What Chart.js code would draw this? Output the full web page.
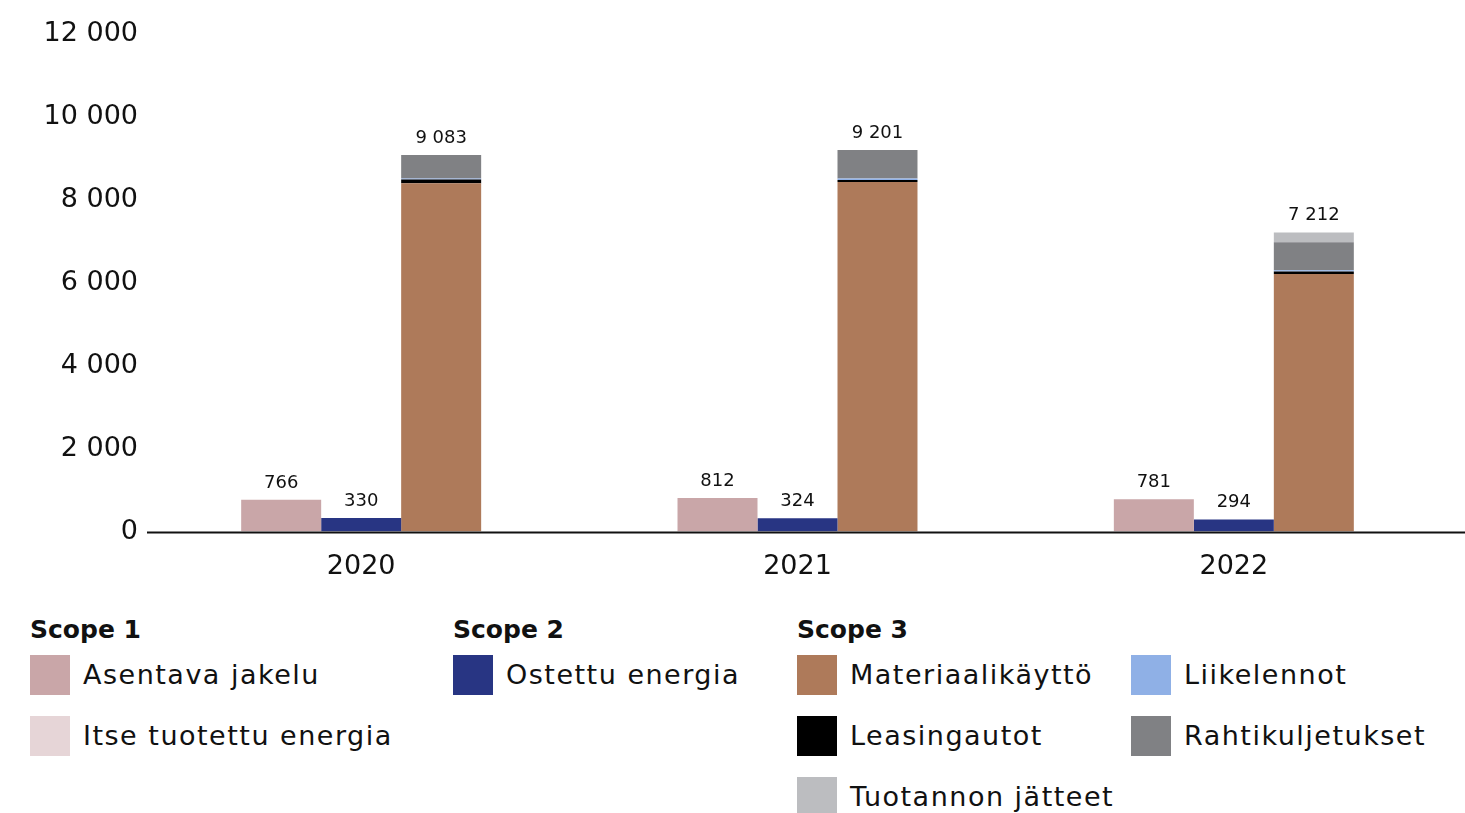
<!DOCTYPE html>
<html>
<head>
<meta charset="utf-8">
<script src="https://cdn.jsdelivr.net/npm/chart.js@4.4.1/dist/chart.umd.min.js"></script>
<style>
  body { margin: 0; background: #fff; font-family: "DejaVu Sans", sans-serif; color: #111; }
  #wrap { position: absolute; left: 0; top: 0; width: 1465px; height: 602px; }
  .head { position: absolute; font-weight: 700; font-size: 25px; line-height: 40px; }
  .item { position: absolute; height: 40px; line-height: 40px; white-space: nowrap; font-size: 27px; letter-spacing: 1.5px; }
  .item span.sw { position: absolute; left: 0; top: 0; width: 40px; height: 40px; }
  .item span.tx { position: absolute; left: 53px; top: 0; }
</style>
</head>
<body>
<div id="wrap"><canvas id="dados"></canvas></div>
<div id="legend"></div>
<script>
const vuodet = ['2020', '2021', '2022'];

// Scope 1
const asentava_jakelu = [766, 812, 781];
const itse_tuotettu = [0, 0, 0];
// Scope 2
const ostettu_energia = [330, 324, 294];
// Scope 3
const materiaalikaytto = [8400, 8430, 6215];
const liikelennot = [25, 35, 30];
const leasingautot = [90, 50, 60];
const rahtikuljetukset = [568, 686, 672];
const tuotannon_jatteet = [0, 0, 235];

const y_ticks = [0, 2000, 4000, 6000, 8000, 10000, 12000];

const varit = {
    asentava: '#c9a6a8', itse: '#e6d5d7', ostettu: '#283583',
    materiaali: '#ae7a5a', liike: '#8fb0e6', leasing: '#000000',
    rahti: '#808184', jatteet: '#bcbdc0'
};

const fontti = '"DejaVu Sans", sans-serif';

const sarjat = [
    { label: 'Asentava jakelu', data: asentava_jakelu, stack: 's1', backgroundColor: varit.asentava },
    { label: 'Itse tuotettu energia', data: itse_tuotettu, stack: 's1', backgroundColor: varit.itse },
    { label: 'Ostettu energia', data: ostettu_energia, stack: 's2', backgroundColor: varit.ostettu },
    { label: 'Materiaalikäyttö', data: materiaalikaytto, stack: 's3', backgroundColor: varit.materiaali },
    { label: 'Leasingautot', data: leasingautot, stack: 's3', backgroundColor: varit.leasing },
    { label: 'Liikelennot', data: liikelennot, stack: 's3', backgroundColor: varit.liike },
    { label: 'Rahtikuljetukset', data: rahtikuljetukset, stack: 's3', backgroundColor: varit.rahti },
    { label: 'Tuotannon jätteet', data: tuotannon_jatteet, stack: 's3', backgroundColor: varit.jatteet }
];

function muotoile(n) {
    return String(n).replace(/\B(?=(\d{3})+(?!\d))/g, ' ');
}

// summat pinojen päälle
const summaPlugin = {
    id: 'summat',
    afterDatasetsDraw(chart) {
        const ctx = chart.ctx;
        const pinot = {};
        chart.data.datasets.forEach((ds, di) => {
            const meta = chart.getDatasetMeta(di);
            ds.data.forEach((v, i) => {
                const key = ds.stack + '_' + i;
                const el = meta.data[i];
                if (!pinot[key]) pinot[key] = { sum: 0, x: el.x, top: el.base };
                pinot[key].sum += v;
                if (v > 0) pinot[key].top = Math.min(pinot[key].top, el.y);
            });
        });
        ctx.save();
        ctx.font = '18px ' + fontti;
        ctx.fillStyle = '#111';
        ctx.textAlign = 'center';
        ctx.textBaseline = 'bottom';
        Object.values(pinot).forEach(p => {
            ctx.fillText(muotoile(p.sum), p.x, p.top - 8);
        });
        // akselin viiva
        ctx.strokeStyle = '#111';
        ctx.lineWidth = 2;
        ctx.beginPath();
        ctx.moveTo(chart.chartArea.left + 4, chart.chartArea.bottom + 1);
        ctx.lineTo(chart.width, chart.chartArea.bottom + 1);
        ctx.stroke();
        ctx.restore();
    }
};

const ctx = document.getElementById('dados');
const grafiikka = new Chart(ctx, {
    type: 'bar',
    data: { labels: vuodet, datasets: sarjat },
    plugins: [summaPlugin],
    options: {
        responsive: true,
        maintainAspectRatio: false,
        animation: false,
        layout: { padding: { top: 34, right: 13, left: 0, bottom: 0 } },
        datasets: { bar: { categoryPercentage: 0.55, barPercentage: 1.0, borderWidth: 0 } },
        plugins: { legend: { display: false }, tooltip: { enabled: false } },
        scales: {
            x: {
                stacked: true,
                grid: { display: false, drawTicks: false },
                border: { display: false },
                ticks: { color: '#111', font: { size: 27, family: fontti }, padding: 19 }
            },
            y: {
                stacked: true,
                min: 0, max: 12000,
                afterBuildTicks(scale) { scale.ticks = y_ticks.map(v => ({ value: v })); },
                afterFit(scale) { scale.width = 143; },
                grid: { display: false, drawTicks: false },
                border: { display: false },
                ticks: {
                    color: '#111',
                    font: { size: 27, family: fontti },
                    padding: 5,
                    callback: v => muotoile(v)
                }
            }
        }
    }
});

// selite
const selite = [
    { head: 'Scope 1', x: 30, items: [['Asentava jakelu', varit.asentava, 0, 0], ['Itse tuotettu energia', varit.itse, 0, 1]] },
    { head: 'Scope 2', x: 453, items: [['Ostettu energia', varit.ostettu, 0, 0]] },
    { head: 'Scope 3', x: 797, items: [
        ['Materiaalikäyttö', varit.materiaali, 0, 0], ['Liikelennot', varit.liike, 334, 0],
        ['Leasingautot', varit.leasing, 0, 1], ['Rahtikuljetukset', varit.rahti, 334, 1],
        ['Tuotannon jätteet', varit.jatteet, 0, 2]] }
];
const leg = document.getElementById('legend');
selite.forEach(g => {
    const h = document.createElement('div');
    h.className = 'head';
    h.style.left = g.x + 'px';
    h.style.top = '610px';
    h.textContent = g.head;
    leg.appendChild(h);
    g.items.forEach(it => {
        const d = document.createElement('div');
        d.className = 'item';
        d.style.left = (g.x + it[2]) + 'px';
        d.style.top = (655 + it[3] * 61) + 'px';
        d.innerHTML = '<span class="sw" style="background:' + it[1] + '"></span><span class="tx"></span>';
        d.querySelector('.tx').textContent = it[0];
        leg.appendChild(d);
    });
});
</script>
</body>
</html>
